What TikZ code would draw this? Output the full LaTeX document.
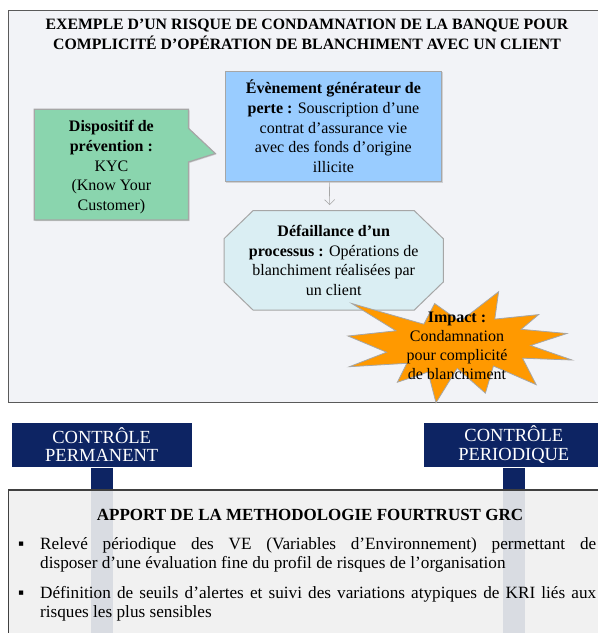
\documentclass[tikz,border=0pt]{standalone}
\usepackage{fontspec}
\setmainfont{Liberation Serif}
\usetikzlibrary{arrows.meta,shadows}
\definecolor{panelgray}{HTML}{F2F3F7}
\definecolor{panelline}{HTML}{5A5A5A}
\definecolor{boxline}{HTML}{A6A6A6}
\definecolor{eventblue}{HTML}{99CCFF}
\definecolor{prevgreen}{HTML}{8AD5AE}
\definecolor{failblue}{HTML}{DAEEF3}
\definecolor{impactorange}{HTML}{FF9900}
\definecolor{ctrlnavy}{HTML}{0D2463}
\definecolor{lowpanel}{HTML}{F0F0F0}
\definecolor{lowline}{HTML}{404040}
\begin{document}
\begin{tikzpicture}[x=1pt, y=-1pt,
    boxtext/.style={align=center, text=black, font=\fontsize{16}{19.7}\selectfont},
    softshadow/.style={drop shadow={shadow xshift=1pt, shadow yshift=-1pt, opacity=0.3}},
    eventbox/.style={boxtext, draw=boxline, line width=1pt, fill=eventblue, softshadow,
      minimum width=216.7pt, minimum height=110.7pt},
    failbox/.style={boxtext, minimum width=219.3pt, minimum height=99.3pt, inner sep=0pt},
    octagon/.style={draw=boxline, line width=1pt, fill=failblue},
    callout/.style={draw=boxline, line width=1.2pt, fill=prevgreen, softshadow},
    impactstar/.style={draw=boxline, line width=0.8pt, fill=impactorange},
    flow/.style={draw=boxline, line width=0.6pt, -{Straight Barb[length=5pt, width=10pt]}},
    ctrlbox/.style={fill=ctrlnavy, draw=white, line width=3pt, text=white, align=center,
      font=\fontsize{18.5}{18.5}\selectfont, minimum width=183pt, minimum height=47pt,
      drop shadow={shadow xshift=1pt, shadow yshift=-1.5pt, opacity=0.25}},
    stem/.style={draw=white, line width=3pt, double=ctrlnavy, double distance=21.7pt},
    itemtext/.style={anchor=north west, text width=578pt, inner sep=0pt, text=black,
      align=justify, font=\fontsize{17.2}{19}\selectfont}]
    \clip (0,0) rectangle (598,633);

    \fill[white] (0,0) rectangle (598,633);
    \draw[line width=1.4pt, draw=panelline, fill=panelgray] (8.4,10.5) rectangle (620,402.7);
    \node[align=center, font=\bfseries\fontsize{15.8}{20}\selectfont] (title) at (307,34)
      {EXEMPLE D’UN RISQUE DE CONDAMNATION DE LA BANQUE POUR\\
       COMPLICITÉ D’OPÉRATION DE BLANCHIMENT AVEC UN CLIENT};

    \draw[callout] (34.3,109.3) -- (188.5,109.3) -- (188.5,128.3) -- (215.3,153.5)
      -- (188.5,162) -- (188.5,220) -- (34.3,220) -- cycle;
    \node[boxtext] (prevention) at (111.4,167.3)
      {\textbf{Dispositif de}\\ \textbf{prévention :}\\ KYC\\ (Know Your\\ Customer)};

    \node[eventbox] (event) at (333.4,126.4)
      {\textbf{Évènement générateur de}\\ \textbf{perte :} Souscription d’une\\
       contrat d’assurance vie\\ avec des fonds d’origine\\ illicite};

    \draw[octagon] (253,210.7) -- (414.3,210.7) -- (443.3,238.7) -- (443.3,282)
      -- (414.3,310) -- (253,310) -- (224,282) -- (224,238.7) -- cycle;
    \node[failbox] (failure) at (333.7,260.4)
      {\textbf{Défaillance d’un}\\ \textbf{processus :} Opérations de\\
       blanchiment réalisées par\\ un client};
    \draw[flow, shorten >=5.5pt] ([xshift=-4pt]event.south) -- ([xshift=-4pt]failure.north);

    \draw[impactstar] (460.0,321.5) -- (498.6,291.7) -- (494.8,319.1) -- (538.6,314.6)
      -- (521.2,329.3) -- (566.8,333.5) -- (530.6,345.5) -- (572.0,360.0) -- (522.6,358.2)
      -- (536.2,384.7) -- (493.4,366.0) -- (485.4,393.1) -- (457.2,368.4) -- (436.0,402.7)
      -- (428.0,372.0) -- (397.4,382.2) -- (406.8,363.3) -- (349.4,366.7) -- (386.6,352.2)
      -- (348.0,336.0) -- (396.0,330.8) -- (351.8,303.5) -- (423.8,324.2) -- (434.6,303.5)
      -- cycle;
    \node[boxtext, font=\fontsize{16}{19}\selectfont] (impact) at (457,345.5)
      {\textbf{Impact :}\\ Condamnation\\ pour complicité\\ de blanchiment};

    \node[ctrlbox] (permanent) at (101.7,444.5) {CONTRÔLE\\PERMANENT};
    \node[ctrlbox] (periodic) at (513.8,444.5) {CONTRÔLE\\PERIODIQUE};
    \draw[stem] ([yshift=1.6pt]permanent.south) -- ++(0,200);
    \draw[stem] ([yshift=1.6pt]periodic.south) -- ++(0,200);

    \fill[lowpanel, fill opacity=0.9] (8.3,490) rectangle (620,650);
    \draw[lowline, line width=1.2pt] (8.3,490) rectangle (620,650);
    \node[font=\bfseries\fontsize{17}{20}\selectfont] (apport) at (310,515)
      {APPORT DE LA METHODOLOGIE FOURTRUST GRC};
    \node[itemtext] (item1) at (18,537)
      {\hangindent=22pt\hangafter=1\noindent\makebox[22pt][l]{▪}Relevé périodique des VE
       (Variables d’Environnement) permettant de\linebreak disposer d’une évaluation fine
       du profil de risques de l’organisation\par};
    \node[itemtext] (item2) at (18,586.5)
      {\hangindent=22pt\hangafter=1\noindent\makebox[22pt][l]{▪}Définition de seuils
       d’alertes et suivi des variations atypiques de KRI liés aux\linebreak risques les
       plus sensibles\par};
\end{tikzpicture}
\end{document}
